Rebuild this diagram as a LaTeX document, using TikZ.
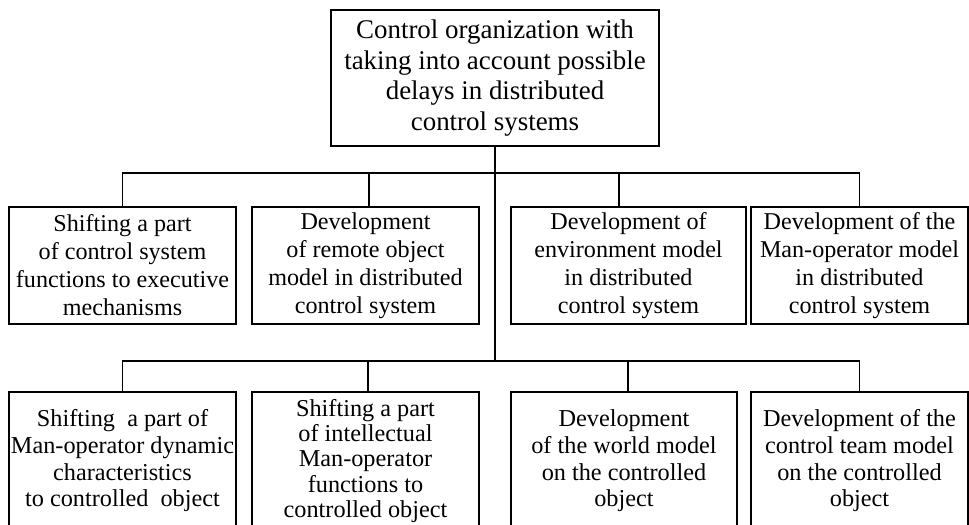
\documentclass[tikz,border=0pt]{standalone}
\usepackage{fontspec}
\setmainfont{Liberation Serif}
\usepackage{tikz}

\begin{document}
\begin{tikzpicture}[x=0.75pt,y=-0.75pt]
    \tikzstyle{block}=[draw=black, line width=1.1pt, rectangle, align=center, inner sep=0pt, fill=none, text=black, font=\fontsize{18.1}{21}\selectfont]
    \tikzstyle{link}=[draw=black, line width=1.1pt]
    \useasboundingbox (0,0) rectangle (969,524);
    \clip (0,0) rectangle (969,524);

    \node[block, minimum width=246pt, minimum height=102pt, font=\fontsize{20.2}{23}\selectfont] (top) at (495,78)
      {Control organization with\\taking into account possible\\delays in distributed\\control systems};

    \node[block, minimum width=170.25pt, minimum height=87.75pt] (m1) at (122.5,265.5)
      {Shifting a part\\of control system\\functions to executive\\mechanisms};
    \node[block, minimum width=170.25pt, minimum height=87.75pt] (m2) at (365.5,265.5)
      {Development\\of remote object\\model in distributed\\control system};
    \node[block, minimum width=176.25pt, minimum height=87.75pt] (m3) at (628.5,265.5)
      {Development of\\environment model\\in distributed\\control system};
    \node[block, minimum width=162.75pt, minimum height=87.75pt] (m4) at (859.5,265.5)
      {Development of the\\Man-operator model\\in distributed\\control system};

    \node[block, minimum width=170.25pt, minimum height=103.5pt, font=\fontsize{18.2}{20}\selectfont] (b1) at (122.5,461)
      {Shifting~ a part of\\Man-operator dynamic\\characteristics\\to controlled~ object};
    \node[block, minimum width=170.25pt, minimum height=103.5pt, font=\fontsize{18.2}{19.1}\selectfont] (b2) at (365.5,461)
      {Shifting a part\\of intellectual\\Man-operator\\functions to\\controlled object};
    \node[block, minimum width=169.5pt, minimum height=103.5pt, font=\fontsize{18.2}{20}\selectfont] (b3) at (624,461)
      {Development\\of the world model\\on the controlled\\object};
    \node[block, minimum width=162.75pt, minimum height=103.5pt, font=\fontsize{18.2}{20}\selectfont] (b4) at (859.5,461)
      {Development of the\\control team model\\on the controlled\\object};

    % buses
    \coordinate (bus1) at (495,173);
    \coordinate (bus2) at (495,361);
    \draw[link] (top.south) -- (bus2);

    \draw[link] (m1.north) -- (m1.north |- bus1) -- (m4.north |- bus1) -- (m4.north);
    \draw[link] ([xshift=2.6pt]m2.north) -- ([xshift=2.6pt]m2.north |- bus1);
    \draw[link] ([xshift=-7.1pt]m3.north) -- ([xshift=-7.1pt]m3.north |- bus1);

    \draw[link] (b1.north) -- (b1.north |- bus2) -- (b4.north |- bus2) -- (b4.north);
    \draw[link] ([xshift=1.9pt]b2.north) -- ([xshift=1.9pt]b2.north |- bus2);
    \draw[link] ([xshift=3pt]b3.north) -- ([xshift=3pt]b3.north |- bus2);
\end{tikzpicture}
\end{document}
